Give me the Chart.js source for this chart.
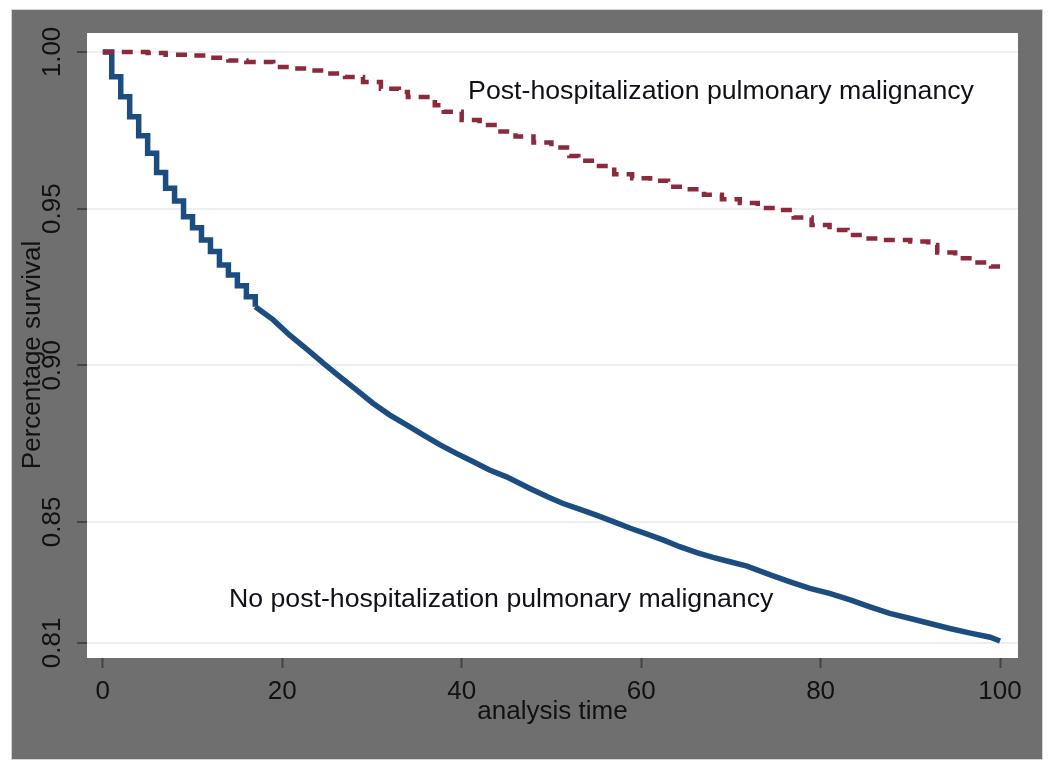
<!DOCTYPE html>
<html lang="en">
<head>
<meta charset="UTF-8">
<title>Survival by post-hospitalization pulmonary malignancy</title>
<style>
    body {
        margin: 0;
        background: #fff;
    }
    canvas {
        display: block;
    }
</style>
<script src="https://cdn.jsdelivr.net/npm/chart.js"></script>
</head>
<body>
<canvas id="kmChart" width="1050" height="762"></canvas>
<script>
// values
const xTicks = [0, 20, 40, 60, 80, 100];
const yTicks = [0.8114, 0.85, 0.90, 0.95, 1.00];
const yTickLabels = ['0.81', '0.85', '0.90', '0.95', '1.00'];

// no post-hospitalization pulmonary malignancy (solid blue)
const noMalTime = [0, 1, 2, 3, 4, 5, 6, 7, 8, 9, 10, 11, 12, 13, 14, 15, 16, 17,
    19, 20.8, 23.1, 24.6, 26.4, 28.3, 30.1, 32.0, 33.9, 35.7, 37.6, 39.4, 41.3, 43.1, 45.0,
    47.6, 49.5, 51.3, 53.2, 55.0, 56.9, 58.8, 60.6, 62.5, 64.3, 66.2, 68.0, 69.9, 71.8,
    74.4, 76.6, 78.8, 81.0, 83.3, 85.5, 87.7, 90.0, 92.2, 94.4, 96.7, 98.9, 100];
const noMalSurv = [1.000, 0.9921, 0.9857, 0.9793, 0.9733, 0.9677, 0.9615, 0.9565, 0.9524, 0.9474, 0.9439, 0.9400, 0.9363, 0.9320, 0.9288, 0.9254, 0.9219, 0.9187,
    0.9145, 0.9097, 0.9043, 0.9006, 0.8964, 0.8921, 0.8879, 0.8841, 0.8809, 0.8778, 0.8746, 0.8719, 0.8692, 0.8666, 0.8644,
    0.8607, 0.8581, 0.8559, 0.8540, 0.8522, 0.8501, 0.8480, 0.8462, 0.8442, 0.8421, 0.8402, 0.8387, 0.8373, 0.8359,
    0.8331, 0.8309, 0.8288, 0.8272, 0.8251, 0.8229, 0.8208, 0.8192, 0.8176, 0.8160, 0.8145, 0.8132, 0.8120];

// post-hospitalization pulmonary malignancy (dashed red)
const malTime = [0, 5, 7, 10, 12, 14, 16, 19, 21, 23, 25, 27, 29, 31, 33, 34, 37, 38, 40, 42,
    44, 46, 48, 50, 52, 53, 55, 57, 59, 61, 63, 65, 67, 69, 71, 73, 75, 77, 79, 81,
    83, 85, 87, 90, 92, 93, 95, 97, 99, 100];
const malSurv = [1.000, 0.9997, 0.9991, 0.9989, 0.9982, 0.9973, 0.9968, 0.9952, 0.9947, 0.9941, 0.9931, 0.9920, 0.9904, 0.9883, 0.9872, 0.9856, 0.9830, 0.9809, 0.9783, 0.9767,
    0.9746, 0.9730, 0.9711, 0.9695, 0.9668, 0.9653, 0.9636, 0.9610, 0.9597, 0.9589, 0.9570, 0.9562, 0.9544, 0.9530, 0.9518, 0.9502, 0.9496, 0.9472, 0.9448, 0.9432,
    0.9416, 0.9405, 0.9400, 0.9395, 0.9384, 0.9360, 0.9342, 0.9328, 0.9315, 0.9315];

const groupNames = ['Post-hospitalization pulmonary malignancy', 'No post-hospitalization pulmonary malignancy'];

const FONT = '"Liberation Sans", Arial, sans-serif';

// early blue steps were read one by one; after that the steps are too fine to read,
// so that part is drawn as a plain line through the read points
const stepCount = 18;

function toPoints(xs, ys) {
    return xs.map((x, i) => ({ x: x, y: ys[i] }));
}

// gray frame, white plot region, rotated y labels, titles and curve labels
const stataLook = {
    id: 'stataLook',
    beforeDraw(chart) {
        const ctx = chart.ctx;
        const a = chart.chartArea;
        ctx.save();
        ctx.fillStyle = '#ffffff';
        ctx.fillRect(0, 0, chart.width, chart.height);
        ctx.fillStyle = '#6f6f6f';
        ctx.fillRect(12, 10, 1030, 749);
        ctx.strokeStyle = '#d4d4d4';
        ctx.lineWidth = 1;
        ctx.strokeRect(11.5, 9.5, 1031, 750);
        ctx.fillStyle = '#ffffff';
        ctx.fillRect(a.left, a.top, a.right - a.left, a.bottom - a.top);
        ctx.restore();
    },
    afterDraw(chart) {
        const ctx = chart.ctx;
        const a = chart.chartArea;
        const xs = chart.scales.x;
        const ys = chart.scales.y;
        ctx.save();
        ctx.fillStyle = '#111';
        ctx.font = '26px ' + FONT;
        ctx.textAlign = 'center';
        ctx.textBaseline = 'middle';

        // y tick labels read bottom to top
        yTicks.forEach((v, i) => {
            ctx.save();
            ctx.translate(52, ys.getPixelForValue(v));
            ctx.rotate(-Math.PI / 2);
            ctx.fillText(yTickLabels[i], 0, 1);
            ctx.restore();
        });

        // axis titles
        ctx.fillText('analysis time', (a.left + a.right) / 2, 712);
        ctx.save();
        ctx.translate(33, 355);
        ctx.rotate(-Math.PI / 2);
        ctx.fillText('Percentage survival', 0, 0);
        ctx.restore();

        // curve labels inside the plot
        ctx.font = '26.7px ' + FONT;
        ctx.textBaseline = 'alphabetic';
        ctx.fillStyle = '#101018';
        ctx.fillText(groupNames[0], xs.getPixelForValue(68.9), ys.getPixelForValue(0.9850));
        ctx.fillText(groupNames[1], xs.getPixelForValue(44.4), ys.getPixelForValue(0.8229));
        ctx.restore();
    }
};

const blueLine = {
    borderColor: '#1c4d80',
    borderWidth: 5.5,
    borderJoinStyle: 'miter',
    pointRadius: 0,
    fill: false
};

const ctx = document.getElementById('kmChart').getContext('2d');
new Chart(ctx, {
    type: 'line',
    data: {
        datasets: [
            {
                label: groupNames[0],
                data: toPoints(malTime, malSurv),
                borderColor: '#8b2a3c',
                borderWidth: 4.5,
                borderDash: [11, 8],
                borderCapStyle: 'butt',
                stepped: true,
                pointRadius: 0,
                fill: false
            },
            Object.assign({
                label: groupNames[1],
                data: toPoints(noMalTime.slice(0, stepCount), noMalSurv.slice(0, stepCount)),
                stepped: true
            }, blueLine),
            Object.assign({
                label: groupNames[1] + ' (later)',
                data: toPoints(noMalTime.slice(stepCount - 1), noMalSurv.slice(stepCount - 1)),
                tension: 0
            }, blueLine)
        ]
    },
    options: {
        responsive: false,
        animation: false,
        devicePixelRatio: 1,
        layout: {
            padding: { top: 33, right: 32, bottom: 0, left: 0 }
        },
        plugins: {
            legend: { display: false },
            tooltip: { enabled: false }
        },
        scales: {
            x: {
                type: 'linear',
                min: -1.76,
                max: 102.0,
                afterBuildTicks: axis => { axis.ticks = xTicks.map(v => ({ value: v })); },
                afterFit: axis => { axis.height = 104; },
                border: { display: false },
                grid: {
                    drawOnChartArea: false,
                    tickColor: '#444',
                    tickWidth: 2,
                    tickLength: 10
                },
                ticks: {
                    color: '#111',
                    padding: 8,
                    maxRotation: 0,
                    font: { family: FONT, size: 26 }
                }
            },
            y: {
                type: 'linear',
                min: 0.80658,
                max: 1.00606,
                afterBuildTicks: axis => { axis.ticks = yTicks.map(v => ({ value: v })); },
                afterFit: axis => { axis.width = 87; },
                border: { display: false },
                grid: {
                    color: '#edf0f2',
                    lineWidth: 2,
                    tickColor: '#444',
                    tickWidth: 2,
                    tickLength: 10
                },
                ticks: { display: false }
            }
        }
    },
    plugins: [stataLook]
});
</script>
</body>
</html>
